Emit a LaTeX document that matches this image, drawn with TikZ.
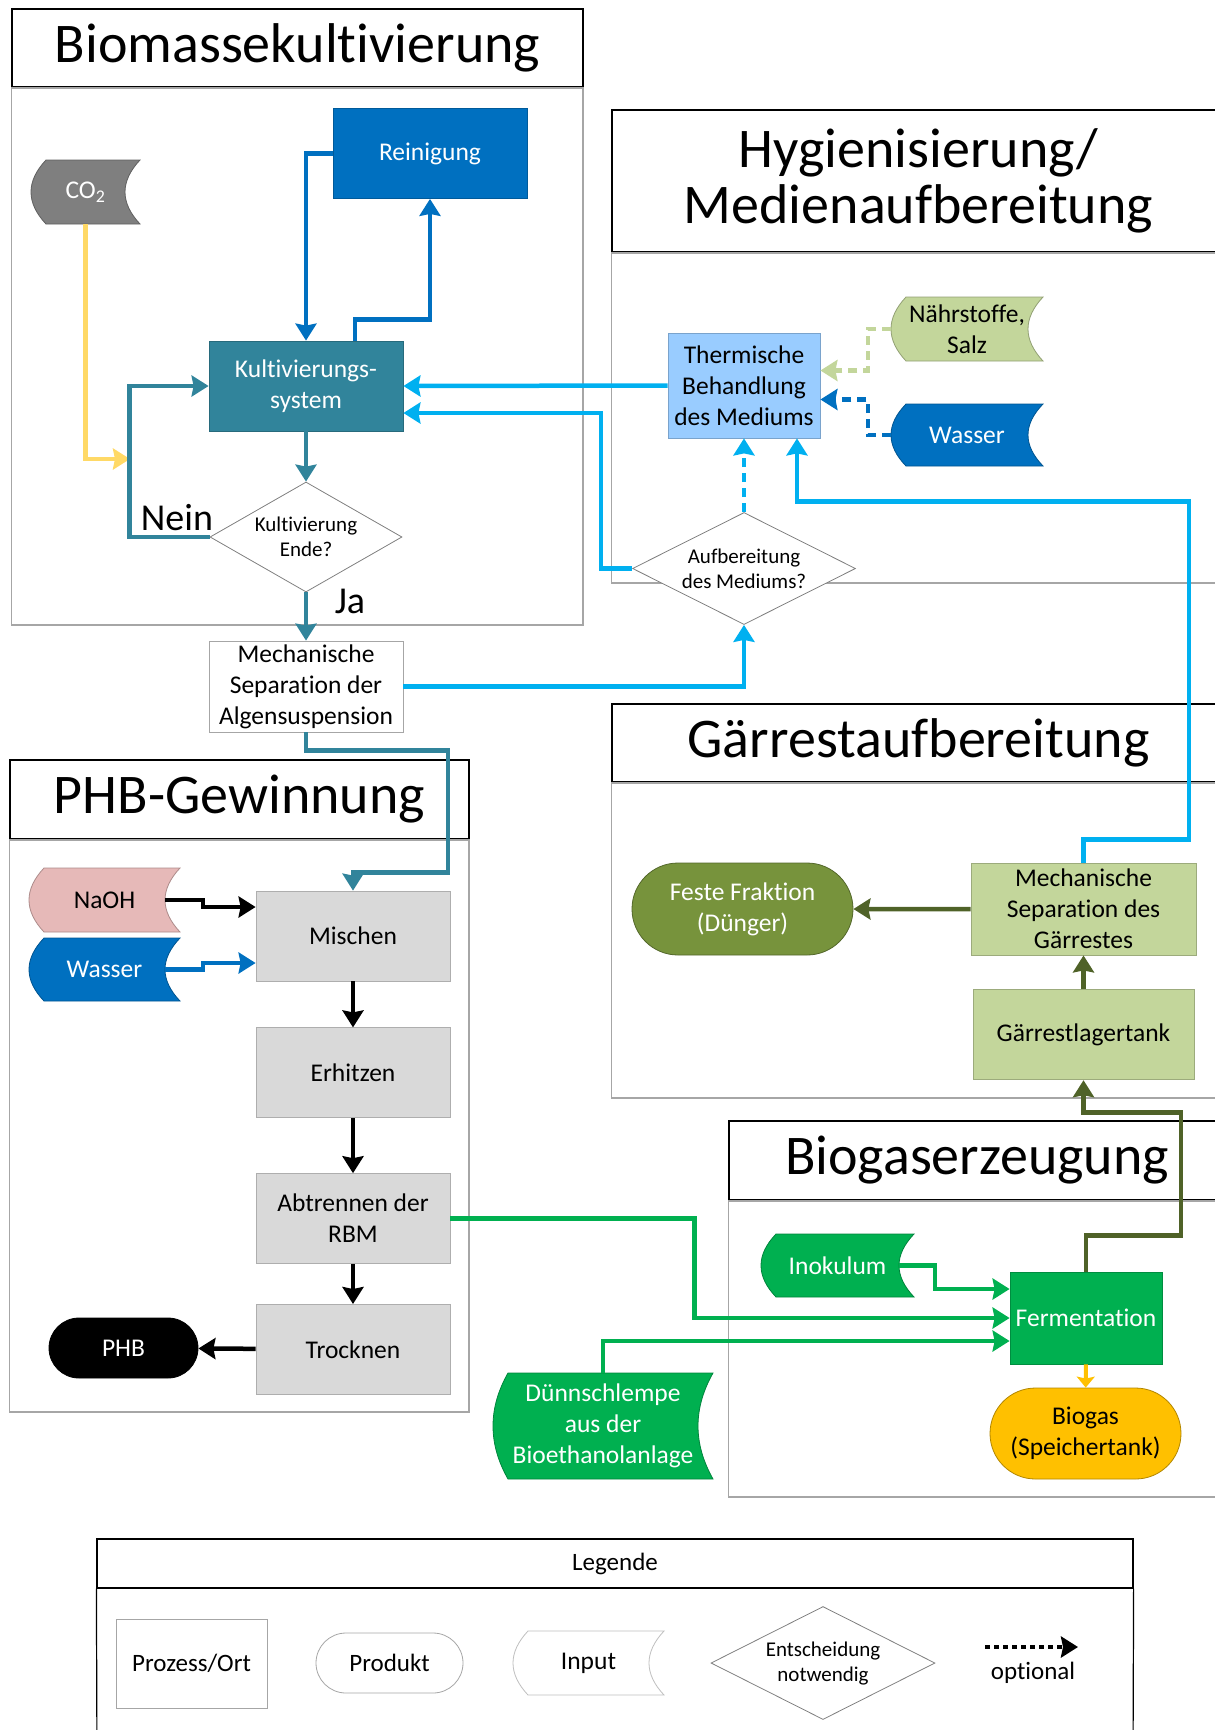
\documentclass[tikz,border=0pt]{standalone}
\usepackage{fontspec}
\setmainfont{Carlito}[Ligatures=NoCommon]
\usepackage{xcolor}
\usepackage{tikz}
\usetikzlibrary{arrows.meta, positioning, shapes.geometric, shapes.misc}

\definecolor{kultteal}{HTML}{31849B}
\definecolor{reinblau}{HTML}{0070C0}
\definecolor{medblau}{HTML}{00B0F0}
\definecolor{hellblau}{HTML}{99CCFF}
\definecolor{co2grau}{HTML}{7F7F7F}
\definecolor{co2gelb}{HTML}{FFD966}
\definecolor{naehrgruen}{HTML}{C3D69B}
\definecolor{duengergruen}{HTML}{77933C}
\definecolor{gaerrestoliv}{HTML}{4F6228}
\definecolor{biogruen}{HTML}{00B050}
\definecolor{biogasorange}{HTML}{FFC000}
\definecolor{naohrosa}{HTML}{E6B9B8}
\definecolor{prozessgrau}{HTML}{D9D9D9}
\definecolor{rahmengrau}{HTML}{A6A6A6}

\newcommand{\knotenfont}{\fontsize{25.5}{31}\selectfont}
\newcommand{\titelfont}{\fontsize{56}{56}\selectfont}
\newcommand{\fragefont}{\fontsize{21}{25}\selectfont}
\newcommand{\antwortfont}{\fontsize{38}{40}\selectfont}
\newcommand{\legendfont}{\fontsize{25}{30}\selectfont}

\newcommand{\datainput}[7]{%
  \begin{scope}[shift={(#2)}]
    \filldraw[fill=#5, draw=#5!75!black, line width=0.8pt]
      ({-#3+15},-#4) -- (#3,-#4)
      .. controls ({#3-20},{-#4/3}) and ({#3-20},{#4/3}) .. (#3,#4)
      -- ({-#3+15},#4)
      .. controls ({-#3-5},{#4/3}) and ({-#3-5},{-#4/3}) .. ({-#3+15},-#4)
      -- cycle;
    \node[text=#6, font=\knotenfont, align=center, inner sep=0pt,
      minimum width={2*#3}, minimum height={2*#4}] (#1) at (0,0) {#7};
    \coordinate (#1-out) at ({#3-15},0);
  \end{scope}}

\begin{document}
\begin{tikzpicture}[x=1pt, y=-1pt,
    prozess/.style={rectangle, minimum width=194pt, minimum height=90pt, inner sep=2pt,
      align=center, font=\knotenfont, fill=#1, draw=#1!80!black, line width=0.8pt},
    prozess/.default=prozessgrau,
    produkt/.style={rounded rectangle, inner sep=2pt, align=center, font=\knotenfont,
      fill=#1, draw=#1!70!black, line width=0.8pt},
    entscheidung/.style={diamond, aspect=2, inner sep=0pt, fill=white, draw=gray,
      line width=0.8pt, font=\fragefont, align=center},
    titel/.style={rectangle, draw=black, line width=1.5pt, font=\titelfont, align=center},
    bereich/.style={draw=rahmengrau, line width=1.5pt},
    fluss/.style={line width=4.5pt, -{Stealth[length=17pt, width=21pt, inset=2pt]}},
    optfluss/.style={dash pattern=on 9pt off 6pt}]

    \useasboundingbox (0,0) rectangle (1215,1730);
    \clip (0,0) rectangle (1215,1730);

    \node[titel, minimum width=571pt, minimum height=78pt] (tbiomasse) at (297.5,48) {Biomassekultivierung};
    \draw[bereich] (tbiomasse.south west) rectangle (583,625);
    \node[titel, minimum width=613pt, minimum height=142pt] (thygiene) at (918.5,181) {Hygienisierung/\\Medienaufbereitung};
    \draw[bereich] (thygiene.south west) rectangle (1225,583);
    \node[titel, minimum width=613pt, minimum height=78pt] (tgaerrest) at (918.5,743) {Gärrestaufbereitung};
    \draw[bereich] (tgaerrest.south west) rectangle (1225,1098);
    \node[titel, minimum width=459pt, minimum height=79pt] (tphb) at (239.5,799.5) {PHB-Gewinnung};
    \draw[bereich] (tphb.south west) rectangle (469,1412);
    \node[titel, minimum width=496pt, minimum height=79pt] (tbiogas) at (977,1160.5) {Biogaserzeugung};
    \draw[bereich] (tbiogas.south west) rectangle (1225,1497);

    \node[prozess=reinblau, text=white] (rein) at (430,153.5) {Reinigung};
    \datainput{co2}{85.5,192}{54.5}{32}{co2grau}{white}{CO\textsubscript{2}}
    \node[prozess=kultteal, text=white] (kult) at (306,386) {Kultivierungs-\\system};
    \node[entscheidung, aspect=1.75, minimum width=192pt, minimum height=110pt] (ende) at (306,537) {Kultivierung\\Ende?};
    \node[font=\antwortfont] (nein) at (177,518) {Nein};
    \node[font=\antwortfont] (ja) at (350,601) {Ja};
    \node[prozess=white, draw=rahmengrau, minimum height=91pt] (mechalg) at (306,686.5) {Mechanische\\Separation der\\Algensuspension};
    \coordinate (co2ein) at (130,459);

    \node[prozess=hellblau, minimum width=152pt, minimum height=105pt] (therm) at (744,385.5) {Thermische\\Behandlung\\des Mediums};
    \datainput{naehr}{967,329}{76}{32}{naehrgruen}{black}{Nährstoffe,\\Salz}
    \datainput{wasserh}{967,435}{76}{31}{reinblau}{white}{Wasser}
    \node[entscheidung, minimum width=223pt, minimum height=112pt] (aufb) at (744,568.5) {Aufbereitung\\des Mediums?};

    \node[produkt=duengergruen, text=white, minimum width=225pt, minimum height=92pt] (feste) at (742.5,909) {Feste Fraktion\\(Dünger)};
    \node[prozess=naehrgruen, minimum width=225pt, minimum height=92pt] (mechsepg) at (1083.5,909) {Mechanische\\Separation des\\Gärrestes};
    \node[prozess=naehrgruen, minimum width=221pt, below=34pt of mechsepg] (lager) {Gärrestlagertank};

    \datainput{naoh}{104.5,900}{75.5}{32}{naohrosa}{black}{NaOH}
    \datainput{wasserp}{104.5,969.5}{75.5}{31.5}{reinblau}{white}{Wasser}
    \node[prozess] (mischen) at (353,936) {Mischen};
    \node[prozess, below=46pt of mischen] (erhitzen) {Erhitzen};
    \node[prozess, below=55pt of erhitzen] (abtrennen) {Abtrennen der\\RBM};
    \node[prozess, below=40pt of abtrennen] (trocknen) {Trocknen};
    \node[produkt=black, text=white, minimum width=153pt, minimum height=60pt] (phb) at (123.5,1348) {PHB};

    \datainput{inok}{837.5,1265.5}{76.5}{31.5}{biogruen}{white}{Inokulum}
    \node[prozess=biogruen, text=white, minimum width=152pt, minimum height=92pt] (ferm) at (1086,1318) {Fermentation};
    \node[produkt=biogasorange, minimum width=195pt, minimum height=91pt] (biogas) at (1085.5,1433.5) {Biogas\\(Speichertank)};
    \datainput{duenn}{603,1426}{110}{53}{biogruen}{white}{Dünnschlempe\\aus der\\Bioethanolanlage}

    \node[titel, line width=1.2pt, font=\legendfont, minimum width=1036pt, minimum height=49pt] (tlegende) at (615,1563.5) {Legende};
    \draw[line width=1.2pt] (tlegende.south west) -- (97,1760);
    \draw[line width=1.2pt] (tlegende.south east) -- (1133,1760);
    \node[prozess=white, draw=rahmengrau, minimum width=151pt, minimum height=89pt, font=\legendfont] (lprozess) at (191.5,1663.5) {Prozess/Ort};
    \node[produkt=white, draw=rahmengrau, minimum width=151pt, minimum height=60pt, font=\legendfont] (lprodukt) at (389.5,1663) {Produkt};
    \datainput{linput}{588.5,1663}{75.5}{32}{white}{black}{Input}
    \node[entscheidung, minimum width=224pt, minimum height=113pt] (lentsch) at (823,1663) {Entscheidung\\notwendig};
    \coordinate (optanf) at (985,1647);
    \coordinate (optend) at (1078,1647);
    \node[font=\legendfont] (lopt) at (1033,1673) {optional};

    \draw[fluss, co2gelb] (co2.south) |- (co2ein);
    \draw[fluss, kultteal] (ende.west) -- ++(-80,0) |- (kult.west);
    \draw[fluss, kultteal] (kult) -- (ende);
    \draw[fluss, kultteal] (ende) -- (mechalg);
    \draw[fluss, reinblau] (rein.west) -| (kult.north);
    \draw[fluss, reinblau] ([xshift=49pt]kult.north) -- ++(0,-21) -| (rein.south);
    \draw[fluss, medblau] (therm.west) -- (kult.east);
    \draw[fluss, medblau] (aufb.west) -- ++(-31,0) |- ([yshift=-27pt]kult.east);
    \draw[fluss, medblau, optfluss] (aufb) -- (therm);
    \draw[fluss, medblau] (mechalg.east) -| (aufb.south);
    \draw[fluss, medblau] (mechsepg.north) -- ++(0,-23) -- ++(105.5,0) -- ++(0,-338) -| ([xshift=53pt]therm.south);
    \draw[fluss, naehrgruen, optfluss] (naehr.west) -- ++(-23,0) |- ([yshift=15pt]therm.east);
    \draw[fluss, reinblau, optfluss] (wasserh.west) -- ++(-23,0) |- ([yshift=-14pt]therm.east);
    \draw[fluss, kultteal] (mechalg.south) -- ++(0,18) -- ++(142,0) -- ++(0,122) -| (mischen.north);
    \draw[fluss, black] (naoh-out) -- ++(38,0) |- ([yshift=29pt]mischen.west);
    \draw[fluss, reinblau] (wasserp-out) -- ++(38,0) |- ([yshift=-27pt]mischen.west);
    \draw[fluss, black] (mischen) -- (erhitzen);
    \draw[fluss, black] (erhitzen) -- (abtrennen);
    \draw[fluss, black] (abtrennen) -- (trocknen);
    \draw[fluss, black] (trocknen) -- (phb);
    \draw[fluss, biogruen] (abtrennen.east) -- ++(244,0) |- (ferm.west);
    \draw[fluss, biogruen] (inok-out) -- ++(36,0) |- ([yshift=29pt]ferm.west);
    \draw[fluss, biogruen] (duenn.north) |- ([yshift=-23pt]ferm.west);
    \draw[biogasorange, line width=4pt, -{Stealth[length=11pt, width=18pt, inset=2pt]}] (ferm) -- (biogas);
    \draw[fluss, gaerrestoliv] (ferm.north) -- ++(0,-36) -- ++(95,0) -- ++(0,-123) -| (lager.south);
    \draw[fluss, gaerrestoliv] (lager) -- (mechsepg);
    \draw[fluss, gaerrestoliv] (mechsepg) -- (feste);
    \draw[fluss, black, dash pattern=on 5pt off 4pt] (optanf) -- (optend);
\end{tikzpicture}
\end{document}
